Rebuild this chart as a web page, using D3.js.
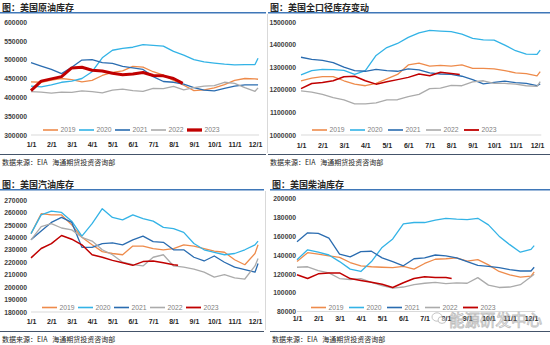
<!DOCTYPE html>
<html>
<head>
<meta charset="utf-8">
<script src="https://cdn.jsdelivr.net/npm/d3@7"></script>
<style>
	body { margin: 0; background: #fff; }
	svg { display: block; font-family: "Liberation Sans", Arial, "Noto Sans CJK SC", sans-serif; }
	.title { font-family: "Noto Sans CJK SC", sans-serif; font-size: 9px; font-weight: bold; fill: #262626; }
	.source { font-family: "Noto Sans CJK SC", sans-serif; font-size: 7px; fill: #262626; }
	.ylab text { font-size: 6.8px; fill: #404040; font-weight: bold; }
	.xlab text { font-size: 7px; fill: #262626; font-weight: bold; }
	.legend text { font-size: 6.8px; fill: #7f7f7f; }
</style>
</head>
<body>
<svg id="chart" width="550" height="345"></svg>
<script>
(function() {

	const months = ["1/1", "2/1", "3/1", "4/1", "5/1", "6/1", "7/1", "8/1", "9/1", "10/1", "11/1", "12/1"];
	const years = ["2019", "2020", "2021", "2022", "2023"];

	// half-month steps, last point a little after 12/1
	const grid = [0, 0.5, 1, 1.5, 2, 2.5, 3, 3.5, 4, 4.5, 5, 5.5, 6, 6.5, 7, 7.5, 8, 8.5, 9, 9.5, 10, 10.5, 11, 11.15];

	// 美国原油库存
	const crude2019 = [441000, 440000, 446000, 450000, 447000, 441000, 445000, 458000, 466000, 470000, 482000, 480000, 468000, 459000, 445000, 432000, 418000, 420000, 425000, 434000, 445000, 450000, 449000, 448000];
	const crude2020 = [430000, 428000, 433000, 440000, 443000, 450000, 468000, 505000, 525000, 530000, 533000, 540000, 538000, 536000, 522000, 512000, 500000, 494000, 491000, 488000, 486000, 487000, 487000, 504000];
	const crude2021 = [492000, 483000, 474000, 463000, 480000, 499000, 500000, 492000, 490000, 482000, 478000, 474000, 455000, 442000, 440000, 435000, 426000, 419000, 417000, 424000, 430000, 433000, 433000, 433000];
	const crude2022 = [415000, 414000, 411000, 414000, 413000, 417000, 415000, 412000, 419000, 422000, 418000, 416000, 424000, 423000, 429000, 420000, 426000, 430000, 431000, 440000, 437000, 426000, 416000, 425000];
	const crude2023 = [418000, 443000, 449000, 455000, 478000, 480000, 472000, 470000, 464000, 460000, 462000, 466000, 458000, 457000, 450000, 437000];
	const crude2023Grid = [0, 0.5, 1, 1.5, 2, 2.5, 3, 3.5, 4, 4.5, 5, 5.5, 6, 6.5, 7, 7.45];

	// 美国全口径库存变动
	const total2019 = [1240000, 1252000, 1258000, 1258000, 1240000, 1225000, 1218000, 1228000, 1248000, 1268000, 1310000, 1318000, 1305000, 1308000, 1305000, 1310000, 1295000, 1295000, 1293000, 1285000, 1275000, 1272000, 1262000, 1280000];
	const total2020 = [1266000, 1285000, 1290000, 1289000, 1286000, 1268000, 1285000, 1352000, 1387000, 1405000, 1432000, 1452000, 1463000, 1460000, 1457000, 1446000, 1428000, 1421000, 1420000, 1398000, 1373000, 1358000, 1357000, 1376000];
	const total2021 = [1344000, 1335000, 1330000, 1320000, 1300000, 1285000, 1282000, 1290000, 1285000, 1282000, 1293000, 1288000, 1275000, 1270000, 1268000, 1260000, 1245000, 1226000, 1233000, 1238000, 1232000, 1228000, 1218000, 1226000];
	const total2022 = [1195000, 1190000, 1180000, 1165000, 1155000, 1138000, 1138000, 1142000, 1155000, 1156000, 1170000, 1180000, 1205000, 1207000, 1220000, 1218000, 1235000, 1240000, 1228000, 1228000, 1225000, 1218000, 1215000, 1236000];
	const total2023 = [1205000, 1228000, 1232000, 1240000, 1258000, 1260000, 1240000, 1225000, 1236000, 1245000, 1255000, 1270000, 1262000, 1278000, 1272000, 1268000];
	const total2023Grid = [0, 0.5, 1, 1.5, 2, 2.5, 3, 3.5, 4, 4.5, 5, 5.5, 6, 6.5, 7, 7.4];

	// 美国汽油库存
	const gas2019 = [243000, 259000, 258000, 258000, 250000, 240000, 234000, 228500, 227000, 226000, 233000, 233000, 231000, 230000, 231000, 234000, 233000, 231000, 229000, 228000, 222000, 218000, 227000, 234000];
	const gas2020 = [243000, 258000, 261000, 260000, 253000, 241000, 251000, 263000, 256000, 254000, 258000, 255000, 253000, 248000, 247000, 244000, 235000, 230000, 228000, 226000, 227000, 230000, 234000, 237000];
	const gas2021 = [238000, 245000, 252000, 256000, 252000, 232000, 232000, 235000, 235500, 234000, 238000, 241000, 236500, 236000, 230000, 230000, 224000, 221000, 225000, 220000, 216000, 214000, 212000, 219000];
	const gas2022 = [238000, 248600, 251000, 247500, 246000, 240000, 237000, 230000, 226000, 220000, 218000, 217000, 224000, 226000, 217000, 216000, 214500, 212000, 208000, 210000, 207500, 206500, 217000, 223000];
	const gas2023 = [223500, 231000, 235000, 241500, 238500, 234000, 226000, 224000, 221500, 219500, 217500, 220500, 221000, 219500, 218000, 217500];
	const gas2023Grid = [0, 0.5, 1, 1.5, 2, 2.5, 3, 3.5, 4, 4.5, 5, 5.5, 6, 6.5, 7, 7.22];

	// 美国柴油库存
	const dsl2019 = [133000, 142500, 141000, 139000, 137500, 132000, 128500, 127500, 127000, 126500, 128000, 125000, 131000, 135500, 136000, 137000, 133500, 135000, 129500, 122500, 119000, 116500, 117500, 122000];
	const dsl2020 = [135000, 145500, 143000, 140000, 133000, 125000, 122500, 133000, 148000, 157000, 173000, 174500, 174500, 177000, 179000, 178000, 177500, 179000, 172000, 160000, 151000, 143000, 146000, 150000];
	const dsl2021 = [154000, 163500, 163000, 158000, 141000, 138000, 143500, 144000, 137000, 133000, 128500, 136000, 137000, 140000, 139000, 137000, 133000, 129000, 128000, 126500, 124500, 123000, 123000, 127000];
	const dsl2022 = [127000, 127500, 123500, 121000, 115000, 114000, 115000, 111000, 107500, 104800, 106000, 108500, 110000, 111000, 109500, 110500, 110000, 116000, 108000, 105500, 106000, 108500, 117000, 119500];
	const dsl2023 = [119000, 115000, 120000, 121000, 121000, 115000, 113000, 111000, 109000, 105500, 110500, 115000, 117000, 116000, 116000, 115000];
	const dsl2023Grid = [0, 0.5, 1, 1.5, 2, 2.5, 3, 3.5, 4, 4.5, 5, 5.5, 6, 6.5, 7, 7.27];

	const crudeTicks = [300000, 350000, 400000, 450000, 500000, 550000, 600000];
	const totalTicks = [1000000, 1100000, 1200000, 1300000, 1400000, 1500000];
	const gasTicks = [180000, 190000, 200000, 210000, 220000, 230000, 240000, 250000, 260000, 270000];
	const dslTicks = [80000, 100000, 120000, 140000, 160000, 180000, 200000];

	const colors = ["#ee8b4b", "#33b3e6", "#2a6cb0", "#ababab", "#c00000"];
	const source = "数据来源：EIA\u00a0\u00a0\u00a0海通期货投资咨询部";

	const svg = d3.select("#chart");

	const panels = [
		{title: "图：美国原油库存", left: 0, right: 266, top: 0, x0: 31, x1: 255, yBase: 135, yTop: 22,
			ticks: crudeTicks, labelX: 27, xPad: 7.5, legendX: 43, legendStep: 36, legendY: 130, redWidth: 3,
			series: [crude2019, crude2020, crude2021, crude2022, crude2023], grid23: crude2023Grid, border: 267.5},
		{title: "图：美国全口径库存变动", left: 268, right: 550, top: 0, x0: 301, x1: 537, yBase: 135, yTop: 22,
			ticks: totalTicks, labelX: 296, xPad: 8, legendX: 312, legendStep: 38, legendY: 130, redWidth: 1.5,
			series: [total2019, total2020, total2021, total2022, total2023], grid23: total2023Grid},
		{title: "图：美国汽油库存", left: 0, right: 264, top: 177, x0: 31, x1: 255, yBase: 312, yTop: 200,
			ticks: gasTicks, labelX: 27, xPad: 7.5, legendX: 42, legendStep: 36, legendY: 307.5, redWidth: 1.5,
			series: [gas2019, gas2020, gas2021, gas2022, gas2023], grid23: gas2023Grid, border: 265.5},
		{title: "图：美国柴油库存", left: 270, right: 550, top: 177, x0: 297, x1: 531, yBase: 311.5, yTop: 198.5,
			ticks: dslTicks, labelX: 296, xPad: 4.5, legendX: 311, legendStep: 38, legendY: 307.5, redWidth: 1.5,
			series: [dsl2019, dsl2020, dsl2021, dsl2022, dsl2023], grid23: dsl2023Grid, watermark: true}
	];

	panels.forEach(drawPanel);

	function drawPanel(p) {
		const g = svg.append("g");

		const x = d3.scaleLinear()
			.domain([0, 11])
			.range([p.x0, p.x1]);

		const y = d3.scaleLinear()
			.domain([p.ticks[0], p.ticks[p.ticks.length - 1]])
			.range([p.yBase, p.yTop]);

		// header + footer rules
		g.append("text")
			.attr("class", "title")
			.attr("x", p.left + 2)
			.attr("y", p.top + 10.5)
			.text(p.title);

		g.append("line")
			.attr("x1", p.left).attr("x2", p.right)
			.attr("y1", p.top + 12.8).attr("y2", p.top + 12.8)
			.attr("stroke", "#3f77b8")
			.attr("stroke-width", 1.6);

		g.append("line")
			.attr("x1", p.left).attr("x2", p.right)
			.attr("y1", p.top + 154.5).attr("y2", p.top + 154.5)
			.attr("stroke", "#44546a")
			.attr("stroke-width", 1);

		g.append("text")
			.attr("class", "source")
			.attr("x", p.left + 2)
			.attr("y", p.top + 165)
			.text(source);

		if (p.border) {
			g.append("line")
				.attr("x1", p.border).attr("x2", p.border)
				.attr("y1", p.top + 14).attr("y2", p.top + 153)
				.attr("stroke", "#d9d9d9");
		}

		// y labels only
		const yAxis = d3.axisLeft(y)
			.tickValues(p.ticks)
			.tickSize(0)
			.tickPadding(0)
			.tickFormat(d3.format("d"));

		g.append("g")
			.attr("class", "ylab")
			.attr("transform", `translate(${p.labelX},0)`)
			.call(yAxis)
			.call(s => s.select(".domain").remove());

		// x axis
		const xAxis = d3.axisBottom(x)
			.tickValues(d3.range(months.length))
			.tickFormat(i => months[i])
			.tickSize(0)
			.tickPadding(p.xPad);

		const xg = g.append("g")
			.attr("class", "xlab")
			.attr("transform", `translate(0,${p.yBase})`)
			.call(xAxis);

		xg.select(".domain")
			.attr("d", `M${p.x0},0H${x(11.2)}`)
			.attr("stroke", "#d9d9d9");

		// series lines
		const line = d3.line()
			.x(d => x(d[0]))
			.y(d => y(d[1]));

		p.series.forEach((vals, k) => {
			const pos = k === 4 ? p.grid23 : grid;
			g.append("path")
				.datum(vals.map((v, i) => [pos[i], v]))
				.attr("fill", "none")
				.attr("stroke", colors[k])
				.attr("stroke-width", k === 4 ? p.redWidth : 1.3)
				.attr("stroke-linejoin", "round")
				.attr("d", line);
		});

		// legend
		const lg = g.append("g")
			.attr("class", "legend")
			.selectAll("g")
			.data(years)
			.enter().append("g")
			.attr("transform", (d, i) => `translate(${p.legendX + i * p.legendStep},${p.legendY})`);

		lg.append("line")
			.attr("x1", 0).attr("x2", 15)
			.attr("stroke", (d, i) => colors[i])
			.attr("stroke-width", (d, i) => i === 4 ? p.redWidth + 0.3 : 1.6);

		lg.append("text")
			.attr("x", 17.5)
			.attr("dy", "0.35em")
			.text(d => d);

		if (p.watermark) {
			const wm = g.append("g").attr("opacity", 0.55);
			wm.append("ellipse")
				.attr("cx", 437).attr("cy", 317).attr("rx", 5).attr("ry", 4.2)
				.attr("fill", "none").attr("stroke", "#8a8a8a").attr("stroke-width", 0.9);
			wm.append("ellipse")
				.attr("cx", 442).attr("cy", 320).attr("rx", 4).attr("ry", 3.4)
				.attr("fill", "#fff").attr("stroke", "#8a8a8a").attr("stroke-width", 0.9);
			wm.append("text")
				.attr("x", 449)
				.attr("y", 326)
				.style("font-family", "'Noto Sans CJK SC', sans-serif")
				.style("font-size", "15.5px")
				.attr("fill", "#fff")
				.attr("stroke", "#8a8a8a")
				.attr("stroke-width", 0.8)
				.text("能源研发中心");
		}
	}

})();
</script>
</body>
</html>
